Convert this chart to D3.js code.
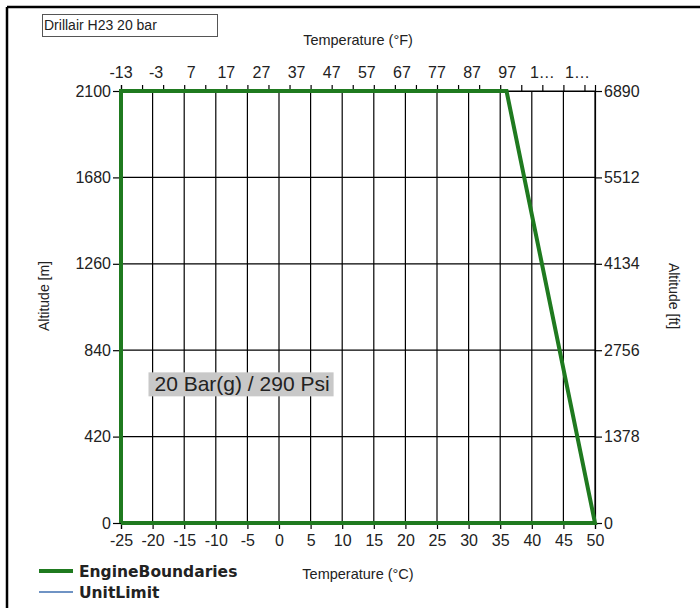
<!DOCTYPE html>
<html>
<head>
<meta charset="utf-8">
<script src="https://cdn.jsdelivr.net/npm/d3@7"></script>
<style>
  html, body { margin: 0; padding: 0; background: #fff; }
  svg { display: block; }
  text { font-family: "Liberation Sans", Arial, sans-serif; fill: #222; }
</style>
</head>
<body>
<svg id="chart" width="700" height="608"></svg>
<script>
// Temperature ticks (°C), bottom axis
const tempCTicks = [-25, -20, -15, -10, -5, 0, 5, 10, 15, 20, 25, 30, 35, 40, 45, 50];
// Temperature labels (°F), top axis
const tempFLabels = [-13, -3, 7, 17, 27, 37, 47, 57, 67, 77, 87, 97, 107, 117];
// Altitude ticks (m) left, (ft) right
const altMTicks = [0, 420, 840, 1260, 1680, 2100];
const altFtTicks = [0, 1378, 2756, 4134, 5512, 6890];

// Engine operating boundary (temperature °C, altitude m)
const boundaryTemp = [-25, -25, 36, 50, -25];
const boundaryAlt  = [0, 2100, 2100, 0, 0];
// Unit limit series (no points plotted)
const unitLimitTemp = [];
const unitLimitAlt  = [];

const chartTitle = "Drillair H23 20 bar";
const pressureLabel = "20 Bar(g) / 290 Psi";

const svg = d3.select("#chart");
const plot = { left: 121, right: 595, top: 91, bottom: 523 };

const x = d3.scaleLinear().domain([-25, 50]).range([plot.left, plot.right]);
const xF = d3.scaleLinear().domain([-13, 122]).range([plot.left, plot.right]);
const y = d3.scaleLinear().domain([0, 2100]).range([plot.bottom, plot.top]);
const yFt = d3.scaleLinear().domain([0, 6890]).range([plot.bottom, plot.top]);

// Outer frame (top and left edges)
svg.append("line").attr("x1", 7).attr("x2", 700).attr("y1", 7).attr("y2", 7)
  .attr("stroke", "#000").attr("stroke-width", 2.5);
svg.append("line").attr("x1", 7).attr("x2", 7).attr("y1", 7).attr("y2", 608)
  .attr("stroke", "#000").attr("stroke-width", 2.5);

// Title box
svg.append("rect").attr("x", 42.5).attr("y", 14.5).attr("width", 175).attr("height", 22)
  .attr("fill", "#fff").attr("stroke", "#555").attr("stroke-width", 1);
svg.append("text").attr("x", 44).attr("y", 30).attr("font-size", 14)
  .style("font-family", "'Liberation Sans Narrow', 'Liberation Sans', Arial, sans-serif")
  .text(chartTitle);

// Grid lines
const grid = svg.append("g");
grid.selectAll("line.v").data(tempCTicks).join("line")
  .attr("x1", d => x(d)).attr("x2", d => x(d))
  .attr("y1", plot.top).attr("y2", plot.bottom)
  .attr("stroke", "#000").attr("stroke-width", 1.2);
grid.selectAll("line.h").data(altMTicks).join("line")
  .attr("x1", plot.left).attr("x2", plot.right)
  .attr("y1", d => y(d)).attr("y2", d => y(d))
  .attr("stroke", "#000").attr("stroke-width", 1.2);

// Axes
const fs = 16;
const plain = d => String(d);
const bottomAxis = svg.append("g").attr("transform", `translate(0,${plot.bottom})`)
  .call(d3.axisBottom(x).tickValues(tempCTicks).tickSize(6).tickPadding(6).tickFormat(plain));
const leftAxis = svg.append("g").attr("transform", `translate(${plot.left},0)`)
  .call(d3.axisLeft(y).tickValues(altMTicks).tickSize(8).tickPadding(2).tickFormat(plain));
const rightAxis = svg.append("g").attr("transform", `translate(${plot.right},0)`)
  .call(d3.axisRight(yFt).tickValues(altFtTicks).tickSize(7).tickPadding(2).tickFormat(plain));

// Top axis: minor ticks every 6 °F, labels every 10 °F
const fTickVals = d3.range(-13, 122 + 0.01, 6);
const topAxis = svg.append("g").attr("transform", `translate(0,${plot.top})`)
  .call(d3.axisTop(xF).tickValues(fTickVals).tickSize(6).tickFormat(""));
svg.append("g").selectAll("text").data(tempFLabels).join("text")
  .attr("x", d => xF(d)).attr("y", plot.top - 13)
  .attr("text-anchor", "middle").attr("font-size", fs)
  .text(d => d >= 100 ? "1\u2026" : String(d));

[bottomAxis, leftAxis, rightAxis, topAxis].forEach(g => {
  g.select(".domain").attr("stroke", "#000").attr("stroke-width", 1.2);
  g.selectAll(".tick line").attr("stroke", "#000").attr("stroke-width", 1.2);
  g.selectAll(".tick text").attr("font-size", fs).attr("fill", "#222")
    .style("font-family", "'Liberation Sans', Arial, sans-serif");
});

// Engine boundary polygon
const pts = boundaryTemp.map((t, i) => [t, boundaryAlt[i]]);
const line = d3.line().x(d => x(d[0])).y(d => y(d[1]));
svg.append("path").datum(pts).attr("d", line)
  .attr("fill", "none").attr("stroke", "#1f7a1f").attr("stroke-width", 4)
  .attr("stroke-linejoin", "miter");
if (unitLimitTemp.length) {
  svg.append("path").datum(unitLimitTemp.map((t, i) => [t, unitLimitAlt[i]]))
    .attr("d", line).attr("fill", "none").attr("stroke", "#6f93c4").attr("stroke-width", 2);
}

// Pressure label
const lbl = svg.append("g");
const lblText = lbl.append("text").attr("x", x(-19.7)).attr("y", y(640))
  .attr("font-size", 21).attr("fill", "#111").text(pressureLabel);
const bb = lblText.node().getBBox();
lbl.insert("rect", "text").attr("x", bb.x - 6).attr("y", bb.y)
  .attr("width", bb.width + 10).attr("height", bb.height + 1).attr("fill", "#c8c8c8");

// Axis titles
svg.append("text").attr("x", 358).attr("y", 45).attr("text-anchor", "middle")
  .attr("font-size", 14.5).text("Temperature (\u00B0F)");
svg.append("text").attr("x", 358).attr("y", 579).attr("text-anchor", "middle")
  .attr("font-size", 14.5).text("Temperature (\u00B0C)");
svg.append("text").attr("transform", "translate(49,296) rotate(-90)")
  .attr("text-anchor", "middle").attr("font-size", 14).text("Altitude [m]");
svg.append("text").attr("transform", "translate(669,296) rotate(90)")
  .attr("text-anchor", "middle").attr("font-size", 14).text("Altitude [ft]");

// Legend
const legend = [
  { name: "EngineBoundaries", color: "#1f7a1f", width: 4 },
  { name: "UnitLimit", color: "#6f93c4", width: 2 }
];
const lg = svg.append("g").selectAll("g").data(legend).join("g")
  .attr("transform", (d, i) => `translate(39,${571 + i * 21})`);
lg.append("line").attr("x1", 0).attr("x2", 34).attr("y1", 0).attr("y2", 0)
  .attr("stroke", d => d.color).attr("stroke-width", d => d.width);
lg.append("text").attr("x", 40).attr("y", 6).attr("font-size", 15.5)
  .style("font-family", "'DejaVu Sans', Verdana, sans-serif")
  .attr("font-weight", "bold").attr("fill", "#111").text(d => d.name);
</script>
</body>
</html>
